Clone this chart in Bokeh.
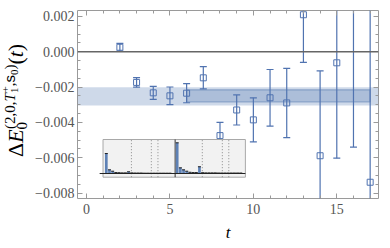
from bokeh.plotting import figure
from bokeh.layouts import row
from bokeh.models import (Range1d, LinearAxis, FixedTicker, CustomJSTickFormatter,
                          BoxAnnotation, Span, ColumnDataSource, Div)
from bokeh.embed import file_html
from bokeh.resources import INLINE

# ---------------- data ----------------
t_vals = [2, 3, 4, 5, 6, 7, 8, 9, 10, 11, 12, 13, 14, 15, 16, 17]
dE = [0.00025, -0.00174, -0.00233, -0.0025, -0.00235, -0.00148, -0.00475, -0.0033,
      -0.00386, -0.00261, -0.0029, 0.00209, -0.00589, -0.00063, 0.0028, -0.00739]
dE_err = [0.00022, 0.00027, 0.00037, 0.0005, 0.00054, 0.00063, 0.00075, 0.00085,
          0.00125, 0.0016, 0.00196, 0.0027, 0.0048, 0.0054, 0.0082, 0.011]

fit_all_lo, fit_all_hi = -0.00304, -0.00202
fit_sub_lo, fit_sub_hi = -0.00284, -0.00216
fit_sub_t0, fit_sub_t1 = 6, 17

x_ticks = [0, 5, 10, 15]
x_minor = list(range(0, 18))
y_ticks = [-0.008, -0.006, -0.004, -0.002, 0.0, 0.002]
y_minor = [round(-0.008 + 0.0005 * i, 4) for i in range(21)]

# inset spectrum (two panels of overlap weights)
inset_k1 = list(range(21))
inset_w1 = [0.65, 0.12, 0.075, 0.03, 0.025, 0.02, 0.02, 0.055, 0.02, 0.015, 0.015,
            0.015, 0.01, 0.01, 0.01, 0.01, 0.01, 0.01, 0.01, 0.01, 0.01]
inset_k2 = [22.3, 23.3, 24.3, 25.3, 26.3, 27.3, 28.3, 29.3, 30.3, 31.3, 32.3, 33.3,
            34.3, 35.3, 36.3, 37.3, 38.3, 39.3, 40.3, 41.3, 42.3]
inset_w2 = [1.0, 0.185, 0.12, 0.075, 0.04, 0.03, 0.03, 0.22, 0.025, 0.02, 0.02, 0.02,
            0.02, 0.015, 0.015, 0.015, 0.015, 0.015, 0.015, 0.015, 0.015]
inset_cuts = [7.9, 14.16, 16.25, 30.2, 36.5, 38.53]
inset_split = 21.65

# ---------------- layout (page px) ----------------
LW = 32                      # width of the y-label strip
W, H = 356, 246              # main figure
FL, FR, FT, FB = 75, 378, 10, 198   # frame edges in page px
X0, X1 = -0.54, 17.5
Y0, Y1 = -0.00831, 0.00233
BLUE = "#5073b0"
BAND = "#5E81B5"
SERIF = "Liberation Serif"

p = figure(width=W, height=H, x_range=Range1d(X0, X1), y_range=Range1d(Y0, Y1),
           output_backend="svg", toolbar_location=None,
           min_border_left=FL - LW, min_border_right=LW + W - FR,
           min_border_top=FT, min_border_bottom=H - FB)
p.grid.visible = False
p.outline_line_color = "#9a9a9a"
p.outline_line_width = 1
p.background_fill_color = "white"
p.border_fill_color = "white"

p.add_layout(LinearAxis(), "above")
p.add_layout(LinearAxis(), "right")

for ax in p.axis:
    ax.axis_line_color = None
    ax.major_tick_in = 5
    ax.major_tick_out = 0
    ax.minor_tick_in = 3
    ax.minor_tick_out = 0
    ax.major_tick_line_color = "#9a9a9a"
    ax.minor_tick_line_color = "#9a9a9a"
    ax.major_label_text_font = SERIF
    ax.major_label_text_font_size = "14px"
    ax.major_label_text_color = "#555555"

for ax in p.xaxis:
    ax.ticker = FixedTicker(ticks=x_ticks, minor_ticks=x_minor)
for ax in p.yaxis:
    ax.ticker = FixedTicker(ticks=y_ticks, minor_ticks=y_minor)

xb = p.below[0]
xb.major_label_standoff = 5
xb.axis_label = "t"
xb.axis_label_text_font = SERIF
xb.axis_label_text_font_style = "italic"
xb.axis_label_text_font_size = "17px"
xb.axis_label_text_color = "black"
xb.axis_label_standoff = 6

yl = p.left[0]
yl.major_label_standoff = 3
yl.formatter = CustomJSTickFormatter(
    code="return (tick < -1e-12 ? '\u2212' : '') + Math.abs(tick).toFixed(3);")
for ax in (p.above[0], p.right[0]):
    ax.formatter = CustomJSTickFormatter(code="return '';")
    ax.major_label_standoff = 0
    ax.major_label_text_font_size = "0px"

# fit bands
p.add_layout(BoxAnnotation(bottom=fit_all_lo, top=fit_all_hi, fill_color=BAND,
                           fill_alpha=0.3, line_color=None, level="underlay"))
p.add_layout(BoxAnnotation(left=fit_sub_t0, right=fit_sub_t1, bottom=fit_sub_lo,
                           top=fit_sub_hi, fill_color=BAND, fill_alpha=0.3,
                           line_color=BAND, line_alpha=0.55, line_width=1.2,
                           level="underlay"))

p.add_layout(Span(location=0, dimension="width", line_color="#666666", line_width=1.5))

# data with error bars
src = ColumnDataSource(dict(
    t=t_vals, y=dE,
    lo=[v - e for v, e in zip(dE, dE_err)],
    hi=[v + e for v, e in zip(dE, dE_err)]))
p.segment(x0="t", y0="lo", x1="t", y1="hi", source=src, line_color=BLUE, line_width=1.2)
p.scatter("t", "lo", source=src, marker="dash", size=7, line_color=BLUE, line_width=1.2)
p.scatter("t", "hi", source=src, marker="dash", size=7, line_color=BLUE, line_width=1.2)
p.scatter("t", "y", source=src, marker="square", size=6, fill_color=None,
          line_color=BLUE, line_width=1)

# ---------------- inset ----------------
K0_PX, DK_PX = 104, 3.2       # page x of k=0, px per k
BASE_PX, DW_PX = 173, 30.7    # page y of baseline, px per unit weight
p.extra_x_ranges = {"ix": Range1d((FL - K0_PX) / DK_PX, (FR - K0_PX) / DK_PX)}
p.extra_y_ranges = {"iy": Range1d((BASE_PX - FB) / DW_PX, (BASE_PX - FT) / DW_PX)}
box_l = (100.7 - K0_PX) / DK_PX
box_r = (244 - K0_PX) / DK_PX
box_b = (BASE_PX - 176.7) / DW_PX
box_t = (BASE_PX - 139) / DW_PX
ax_l = (97.3 - K0_PX) / DK_PX
kw = dict(x_range_name="ix", y_range_name="iy")

p.quad(left=[box_l], right=[box_r], bottom=[box_b], top=[box_t],
       fill_color="#f2f2f2", line_color="#a8a8a8", line_width=1, **kw)
p.segment(x0=inset_cuts, y0=[box_b] * len(inset_cuts), x1=inset_cuts,
          y1=[box_t] * len(inset_cuts), line_color="#8a8a8a", line_dash="1 2",
          line_width=1, **kw)
p.segment(x0=[inset_split], y0=[box_b], x1=[inset_split], y1=[box_t],
          line_color="#333333", line_width=1, **kw)
p.vbar(x=inset_k1 + inset_k2, top=inset_w1 + inset_w2, bottom=0, width=0.85,
       fill_color=BAND, line_color=None, **kw)
p.scatter(x=inset_k1 + inset_k2, y=inset_w1 + inset_w2, marker="dash", size=3,
          line_color="#222222", line_width=1, **kw)
p.segment(x0=[ax_l], y0=[0], x1=[box_r], y1=[0], line_color="#222222",
          line_width=1, **kw)

# ---------------- y-axis label (rotated HTML text) ----------------
label_html = (
    "<div style=\"position:relative;width:%dpx;height:%dpx;\">"
    "<div style=\"position:absolute;left:-6px;top:157px;transform-origin:0 0;"
    "transform:rotate(-90deg);white-space:nowrap;font-family:'Liberation Serif';"
    "font-size:22px;line-height:22px;color:black;\">"
    "\u0394<i>E</i>"
    "<span style=\"font-size:15px;vertical-align:-4px;\">0</span>"
    "<span style=\"font-size:15px;vertical-align:8px;margin-left:-7px;\">(2,0,<i>T</i>"
    "<span style=\"font-size:11px;vertical-align:-3px;\">1</span>"
    "<span style=\"font-size:11px;vertical-align:6px;margin-left:-5px;\">+</span>,"
    "<span style=\"font-family:'Liberation Sans';\">s</span>"
    "<span style=\"font-size:11px;vertical-align:-3px;\">0</span>)</span>"
    "(<i>t</i>)</div></div>" % (LW, H)
)
lab = Div(text=label_html, width=LW, height=H, margin=0,
          styles={"overflow": "visible"})

open("out.html", "w").write(file_html(row(lab, p), INLINE))
